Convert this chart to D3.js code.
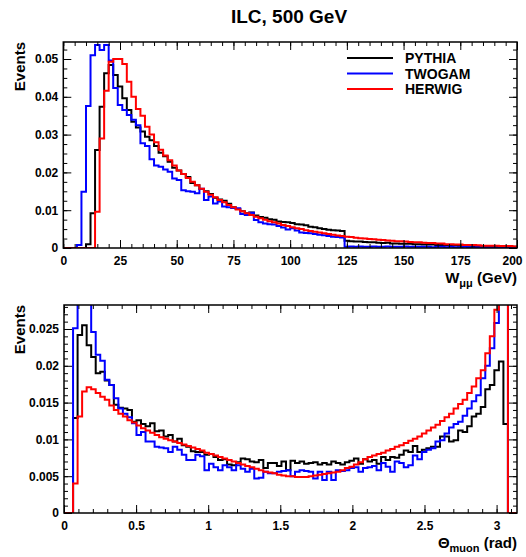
<!DOCTYPE html>
<html>
<head>
<meta charset="utf-8">
<script src="https://cdn.jsdelivr.net/npm/d3@7"></script>
<style>
  body { margin: 0; background: #fff; }
  svg text { font-family: "Liberation Sans", Arial, Helvetica, sans-serif; font-weight: bold; fill: #000; }
  .axis text { font-size: 12px; }
  .axis line { stroke: #000; stroke-width: 1; }
  .hist { fill: none; stroke-width: 2; }
</style>
</head>
<body>
<script>
// top panel: W_mumu, 100 bins of 2 GeV
const wBinWidth = 2;
const wPythia = [
  0, 0, 0, 0, 0, 0.0010, 0.0092, 0.0259, 0.0374, 0.0462,
  0.0484, 0.0458, 0.0427, 0.0396, 0.0365, 0.0334, 0.0319, 0.0308, 0.0294, 0.0285,
  0.0270, 0.0252, 0.0243, 0.0228, 0.0212, 0.0205, 0.0196, 0.0188, 0.0172, 0.0166,
  0.0156, 0.0150, 0.0143, 0.0133, 0.0128, 0.0125, 0.0117, 0.0108, 0.0103, 0.0097,
  0.0092, 0.0094, 0.0086, 0.0082, 0.0080, 0.0076, 0.0075, 0.0070, 0.0069, 0.0068,
  0.0066, 0.0063, 0.0062, 0.0060, 0.0056, 0.0055, 0.0052, 0.0050, 0.0048, 0.0047,
  0.0046, 0.0045, 0.0019, 0.0018, 0.0017, 0.0017, 0.0016, 0.0015, 0.0015, 0.0014,
  0.0013, 0.0014, 0.0012, 0.0012, 0.0011, 0.0011, 0.0011, 0.0010, 0.0010, 0.0009,
  0.0009, 0.0009, 0.0008, 0.0008, 0.0007, 0.0007, 0.0007, 0.0006, 0.0006, 0.0006,
  0.0005, 0.0005, 0.0005, 0.0004, 0.0004, 0.0004, 0.0004, 0.0003, 0.0003, 0.0003
];
const wTwogam = [
  0, 0, 0, 0.0008, 0.0149, 0.0376, 0.0510, 0.0537, 0.0524, 0.0537,
  0.0496, 0.0423, 0.0378, 0.0365, 0.0352, 0.0339, 0.0325, 0.0277, 0.0270, 0.0235,
  0.0218, 0.0215, 0.0208, 0.0202, 0.0184, 0.0180, 0.0153, 0.0150, 0.0149, 0.0145,
  0.0157, 0.0127, 0.0136, 0.0118, 0.0123, 0.0110, 0.0108, 0.0106, 0.0105, 0.0090,
  0.0087, 0.0093, 0.0074, 0.0068, 0.0065, 0.0063, 0.0062, 0.0058, 0.0054, 0.0049,
  0.0052, 0.0046, 0.0041, 0.0040, 0.0039, 0.0037, 0.0035, 0.0034, 0.0032, 0.0030,
  0.0029, 0.0028, 0.0003, 0.0004, 0.0003, 0.0004, 0.0003, 0.0003, 0.0004, 0.0003,
  0.0003, 0.0004, 0.0003, 0.0003, 0.0003, 0.0004, 0.0003, 0.0003, 0.0003, 0.0003,
  0.0003, 0.0002, 0.0003, 0.0003, 0.0002, 0.0003, 0.0002, 0.0002, 0.0003, 0.0002,
  0.0001, 0.0002, 0.0001, 0.0001, 0.0001, 0.0001, 0.0001, 0.0001, 0.0001, 0.0001
];
const wHerwig = [
  0, 0, 0, 0, 0, 0, 0, 0.0096, 0.0290, 0.0416,
  0.0493, 0.0500, 0.0500, 0.0487, 0.0440, 0.0400, 0.0368, 0.0350, 0.0321, 0.0300,
  0.0280, 0.0260, 0.0245, 0.0232, 0.0218, 0.0205, 0.0196, 0.0185, 0.0175, 0.0166,
  0.0157, 0.0149, 0.0141, 0.0134, 0.0127, 0.0121, 0.0114, 0.0108, 0.0102, 0.0097,
  0.0092, 0.0087, 0.0083, 0.0079, 0.0075, 0.0071, 0.0068, 0.0065, 0.0061, 0.0058,
  0.0055, 0.0052, 0.0050, 0.0047, 0.0045, 0.0043, 0.0041, 0.0039, 0.0037, 0.0035,
  0.0033, 0.0032, 0.0030, 0.0029, 0.0027, 0.0026, 0.0025, 0.0024, 0.0023, 0.0022,
  0.0021, 0.0020, 0.0019, 0.0018, 0.0018, 0.0017, 0.0016, 0.0015, 0.0015, 0.0014,
  0.0013, 0.0013, 0.0012, 0.0012, 0.0010, 0.0010, 0.0009, 0.0009, 0.0008, 0.0008,
  0.0008, 0.0007, 0.0006, 0.0006, 0.0006, 0.0006, 0.0005, 0.0005, 0.0005, 0.0004
];
const wXTicks = [0, 25, 50, 75, 100, 125, 150, 175, 200];
const wYTicks = [0, 0.01, 0.02, 0.03, 0.04, 0.05];

// bottom panel: muon polar angle, 100 bins from 0 to pi
const thBinWidth = Math.PI / 100;
const thPythia = [
  0, 0, 0.0129, 0.0242, 0.0255, 0.0228, 0.0212, 0.0190, 0.0192, 0.0180,
  0.0174, 0.0147, 0.0143, 0.0142, 0.0140, 0.0124, 0.0126, 0.0121, 0.0118, 0.0122,
  0.0111, 0.0112, 0.0104, 0.0106, 0.0097, 0.0101, 0.0092, 0.0090, 0.0084, 0.0083,
  0.0083, 0.0079, 0.0080, 0.0076, 0.0072, 0.0073, 0.0066, 0.0065, 0.0069, 0.0074,
  0.0073, 0.0070, 0.0069, 0.0072, 0.0061, 0.0068, 0.0068, 0.0064, 0.0070, 0.0058,
  0.0071, 0.0068, 0.0070, 0.0067, 0.0068, 0.0069, 0.0066, 0.0068, 0.0066, 0.0070,
  0.0068, 0.0066, 0.0069, 0.0071, 0.0074, 0.0067, 0.0073, 0.0070, 0.0072, 0.0067,
  0.0076, 0.0072, 0.0076, 0.0075, 0.0079, 0.0085, 0.0083, 0.0091, 0.0083, 0.0086,
  0.0088, 0.0090, 0.0090, 0.0104, 0.0104, 0.0097, 0.0099, 0.0112, 0.0110, 0.0118,
  0.0131, 0.0135, 0.0144, 0.0168, 0.0174, 0.0194, 0.0206, 0.0121, 0, 0
];
const thTwogam = [
  0, 0, 0.0251, 0.0400, 0.0450, 0.0350, 0.0246, 0.0215, 0.0207, 0.0181,
  0.0174, 0.0156, 0.0142, 0.0135, 0.0130, 0.0122, 0.0106, 0.0110, 0.0097, 0.0097,
  0.0090, 0.0089, 0.0088, 0.0083, 0.0090, 0.0086, 0.0079, 0.0072, 0.0072, 0.0079,
  0.0077, 0.0058, 0.0067, 0.0062, 0.0058, 0.0065, 0.0062, 0.0058, 0.0065, 0.0060,
  0.0056, 0.0060, 0.0047, 0.0048, 0.0056, 0.0054, 0.0054, 0.0056, 0.0057, 0.0058,
  0.0050, 0.0056, 0.0058, 0.0057, 0.0056, 0.0047, 0.0056, 0.0045, 0.0056, 0.0045,
  0.0058, 0.0057, 0.0058, 0.0061, 0.0062, 0.0056, 0.0061, 0.0062, 0.0064, 0.0058,
  0.0068, 0.0063, 0.0056, 0.0070, 0.0068, 0.0062, 0.0065, 0.0078, 0.0073, 0.0083,
  0.0086, 0.0088, 0.0097, 0.0099, 0.0108, 0.0116, 0.0121, 0.0124, 0.0132, 0.0142,
  0.0152, 0.0160, 0.0183, 0.0200, 0.0224, 0.0258, 0.0350, 0.0400, 0, 0
];
const thHerwig = [
  0, 0, 0.0040, 0.0131, 0.0165, 0.0171, 0.0168, 0.0163, 0.0158, 0.0154,
  0.0146, 0.0140, 0.0135, 0.0131, 0.0126, 0.0123, 0.0119, 0.0115, 0.0112, 0.0109,
  0.0106, 0.0103, 0.0101, 0.0099, 0.0097, 0.0095, 0.0093, 0.0091, 0.0089, 0.0087,
  0.0085, 0.0082, 0.0080, 0.0078, 0.0076, 0.0074, 0.0072, 0.0070, 0.0068, 0.0066,
  0.0064, 0.0062, 0.0060, 0.0058, 0.0056, 0.0055, 0.0054, 0.0052, 0.0051, 0.0050,
  0.0050, 0.0049, 0.0049, 0.0049, 0.0050, 0.0051, 0.0052, 0.0053, 0.0054, 0.0055,
  0.0056, 0.0058, 0.0061, 0.0063, 0.0066, 0.0069, 0.0073, 0.0076, 0.0078, 0.0080,
  0.0082, 0.0085, 0.0087, 0.0090, 0.0092, 0.0095, 0.0098, 0.0101, 0.0104, 0.0108,
  0.0112, 0.0116, 0.0120, 0.0125, 0.0130, 0.0135, 0.0142, 0.0148, 0.0154, 0.0163,
  0.0172, 0.0183, 0.0194, 0.0217, 0.0240, 0.0276, 0.0350, 0.0400, 0, 0
];
const thXTicks = [0, 0.5, 1, 1.5, 2, 2.5, 3];
const thYTicks = [0, 0.005, 0.01, 0.015, 0.02, 0.025];

const generators = ['PYTHIA', 'TWOGAM', 'HERWIG'];
const colors = ['#000000', '#0000ff', '#ff0000'];

const width = 526;
const height = 557;

const svg = d3.select('body')
    .append('svg')
    .attr('width', width)
    .attr('height', height);

svg.append('text')
    .attr('x', 289)
    .attr('y', 23)
    .style('font-size', '19px')
    .style('text-anchor', 'middle')
    .text('ILC, 500 GeV');

// step outline of a histogram, zero level at both ends
function stepPoints(values, binWidth, x, y) {
    const pts = [[x(0), y(0)]];
    values.forEach((v, i) => {
        pts.push([x(i * binWidth), y(v)]);
        pts.push([x((i + 1) * binWidth), y(v)]);
    });
    pts.push([x(values.length * binWidth), y(0)]);
    return pts;
}

function plot(cfg) {
    const x = d3.scaleLinear().domain(cfg.xDomain).range([cfg.left, cfg.right]);
    const y = d3.scaleLinear().domain(cfg.yDomain).range([cfg.bottom, cfg.top]);
    const g = svg.append('g');

    g.append('clipPath')
        .attr('id', cfg.id + '-clip')
        .append('rect')
        .attr('x', cfg.left)
        .attr('y', cfg.top)
        .attr('width', cfg.right - cfg.left)
        .attr('height', cfg.bottom - cfg.top);

    const line = d3.line();
    g.append('g')
        .attr('clip-path', `url(#${cfg.id}-clip)`)
        .selectAll('.hist')
        .data(cfg.series)
        .enter()
        .append('path')
        .classed('hist', true)
        .attr('stroke', (d, i) => colors[i])
        .attr('d', d => line(stepPoints(d, cfg.binWidth, x, y)));

    // ticks point inwards on all four sides
    const fmt = d => d === 0 ? '0' : String(d);
    const addAxis = (axis, tr, values, size, pad) => {
        return g.append('g')
            .classed('axis', true)
            .attr('transform', tr)
            .call(axis.tickValues(values)
                .tickSizeInner(-size)
                .tickSizeOuter(0)
                .tickPadding(pad || 0)
                .tickFormat(pad ? fmt : ''))
            .call(a => a.select('.domain').remove());
    };
    const xAxis = addAxis(d3.axisBottom(x), `translate(0,${cfg.bottom})`, cfg.xTicks, 8, 8);
    addAxis(d3.axisBottom(x), `translate(0,${cfg.bottom})`, cfg.xMinor, 4);
    addAxis(d3.axisTop(x), `translate(0,${cfg.top})`, cfg.xTicks, 8);
    addAxis(d3.axisTop(x), `translate(0,${cfg.top})`, cfg.xMinor, 4);
    addAxis(d3.axisLeft(y), `translate(${cfg.left},0)`, cfg.yTicks, 8, 5);
    addAxis(d3.axisLeft(y), `translate(${cfg.left},0)`, cfg.yMinor, 4);
    addAxis(d3.axisRight(y), `translate(${cfg.right},0)`, cfg.yTicks, 8);
    addAxis(d3.axisRight(y), `translate(${cfg.right},0)`, cfg.yMinor, 4);

    // keep a label sitting on the right frame inside the page
    xAxis.selectAll('text')
        .filter(d => x(d) > cfg.right - 1)
        .attr('dx', -5);

    g.append('rect')
        .attr('x', cfg.left)
        .attr('y', cfg.top)
        .attr('width', cfg.right - cfg.left)
        .attr('height', cfg.bottom - cfg.top)
        .attr('fill', 'none')
        .attr('stroke', '#000')
        .attr('stroke-width', 1.5);

    g.append('text')
        .attr('transform', `translate(25,${cfg.top}) rotate(-90)`)
        .style('font-size', '15px')
        .style('text-anchor', 'end')
        .text('Events');

    const title = g.append('text')
        .attr('x', cfg.right)
        .attr('y', cfg.bottom + 35)
        .style('font-size', '15px')
        .style('text-anchor', 'end');
    title.append('tspan').text(cfg.xTitle[0]);
    title.append('tspan').attr('dy', 4).style('font-size', '11px').text(cfg.xTitle[1]);
    title.append('tspan').attr('dy', -4).text(' ' + cfg.xTitle[2]);

    return g;
}

const wPanel = plot({
    id: 'w',
    left: 63.3, right: 517, top: 42, bottom: 248,
    xDomain: [0, 200], yDomain: [0, 0.0545],
    binWidth: wBinWidth,
    series: [wPythia, wTwogam, wHerwig],
    xTicks: wXTicks, xMinor: d3.range(0, 201, 5),
    yTicks: wYTicks, yMinor: d3.range(0, 0.0545, 0.0025),
    xTitle: ['W', 'μμ', '(GeV)']
});

plot({
    id: 'th',
    left: 64, right: 517, top: 305, bottom: 513,
    xDomain: [0, Math.PI], yDomain: [0, 0.02826],
    binWidth: thBinWidth,
    series: [thPythia, thTwogam, thHerwig],
    xTicks: thXTicks, xMinor: d3.range(0, 3.15, 0.1),
    yTicks: thYTicks, yMinor: d3.range(0, 0.0283, 0.001),
    xTitle: ['Θ', 'muon', '(rad)']
});

// legend, top panel
const legend = wPanel.append('g')
    .selectAll('g')
    .data(generators)
    .enter()
    .append('g')
    .attr('transform', (d, i) => `translate(347,${58 + i * 15.5})`);

legend.append('line')
    .attr('x2', 46)
    .attr('stroke', (d, i) => colors[i])
    .attr('stroke-width', 2);

legend.append('text')
    .attr('x', 58)
    .attr('y', 5)
    .style('font-size', '14px')
    .text(d => d);
</script>
</body>
</html>
